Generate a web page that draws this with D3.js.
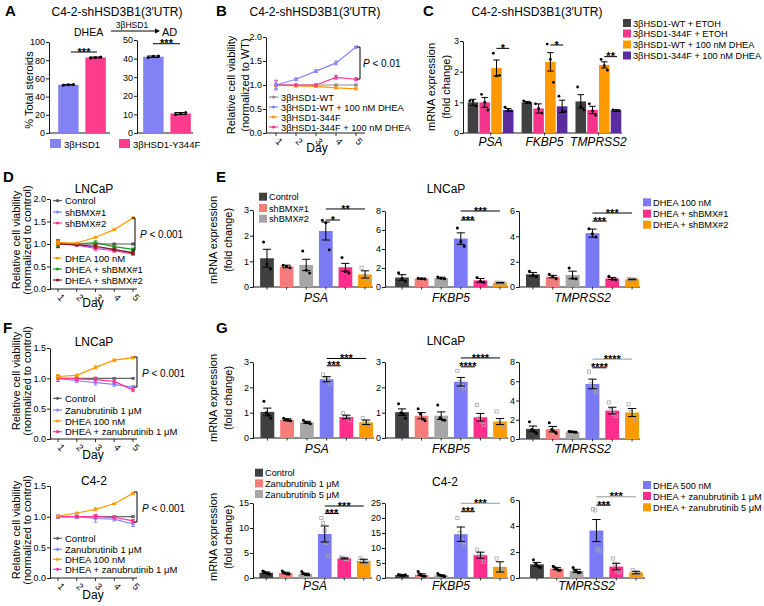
<!DOCTYPE html>
<html>
<head>
<meta charset="utf-8">
<script src="https://cdn.jsdelivr.net/npm/d3@7/dist/d3.min.js"></script>
<style>
body{margin:0;background:#fff;}
svg text{font-family:'Liberation Sans',Arial,Helvetica,sans-serif;}
</style>
</head>
<body>
<svg id="fig" width="764" height="606"></svg>
<script>
// ================= DATA =================
// Panel A
const aCategories = ["3βHSD1", "3βHSD1-Y344F"];
const aDheaValues = [53, 83];
const aDheaErrors = [0.4, 0.5];
const aDheaPoints = [[52.6, 53.1, 53.3], [82.4, 83.0, 83.5]];
const aAdValues = [41, 10.5];
const aAdErrors = [0.4, 0.5];
const aAdPoints = [[40.6, 41.2, 41.4], [10.0, 10.5, 11.0]];
const aDheaTicks = [0, 20, 40, 60, 80, 100];
const aAdTicks = [0, 10, 20, 30, 40, 50];

// Panel B
const bDays = ["1", "2", "3", "4", "5"];
const bSeriesNames = ["3βHSD1-WT", "3βHSD1-WT + 100 nM DHEA", "3βHSD1-344F", "3βHSD1-344F + 100 nM DHEA"];
const bWt = [1.0, 1.0, 1.0, 1.0, 1.0];
const bWtDhea = [1.0, 1.12, 1.29, 1.46, 1.79];
const bMut = [1.0, 0.98, 0.97, 0.94, 0.92];
const bMutDhea = [1.0, 1.0, 1.0, 1.16, 1.12];
const bWtErr = [0.02, 0.02, 0.02, 0.02, 0.02];
const bWtDheaErr = [0.08, 0.03, 0.03, 0.04, 0.02];
const bMutErr = [0.03, 0.02, 0.02, 0.02, 0.02];
const bMutDheaErr = [0.1, 0.02, 0.02, 0.04, 0.03];
const bTicks = [0, 0.5, 1.0, 1.5, 2.0];

// Panel C
const cGenes = ["PSA", "FKBP5", "TMPRSS2"];
const cSeriesNames = ["3βHSD1-WT + ETOH", "3βHSD1-344F + ETOH", "3βHSD1-WT + 100 nM DHEA", "3βHSD1-344F + 100 nM DHEA"];
const cWtEtoh = [1.0, 1.0, 1.03];
const cMutEtoh = [1.0, 0.8, 0.75];
const cWtDhea = [2.12, 2.32, 2.22];
const cMutDhea = [0.75, 0.87, 0.73];
const cWtEtohErr = [0.1, 0.03, 0.22];
const cMutEtohErr = [0.16, 0.15, 0.12];
const cWtDheaErr = [0.26, 0.3, 0.1];
const cMutDheaErr = [0.05, 0.2, 0.03];
const cWtEtohPts = [[1.05, 1.05, 0.88], [1.05, 1.0, 0.98], [1.5, 0.85, 0.75]];
const cMutEtohPts = [[1.26, 1.0, 0.75], [0.95, 0.8, 0.65], [0.95, 0.72, 0.58]];
const cWtDheaPts = [[2.6, 1.86, 1.88], [2.9, 2.4, 1.65], [2.4, 2.2, 2.05]];
const cMutDheaPts = [[0.84, 0.75, 0.72], [1.2, 0.72, 0.7], [0.75, 0.72, 0.73]];
const cTicks = [0, 1, 2, 3];
const cSig = [["PSA", "*"], ["FKBP5", "*"], ["TMPRSS2", "**"]];

// Panel D
const dDays = ["1", "2", "3", "4", "5"];
const dSeriesNames = ["Control", "shBMX#1", "shBMX#2", "DHEA 100 nM", "DHEA + shBMX#1", "DHEA + shBMX#2"];
const dControl = [1.02, 1.0, 1.0, 1.0, 1.0];
const dSh1 = [1.0, 0.98, 0.93, 0.87, 0.82];
const dSh2 = [1.0, 0.98, 0.9, 0.85, 0.78];
const dDhea = [1.03, 1.02, 1.15, 1.32, 1.58];
const dDheaSh1 = [1.02, 1.0, 1.03, 0.94, 0.88];
const dDheaSh2 = [1.0, 0.98, 0.95, 0.88, 0.8];
const dErr = [0.08, 0.02, 0.04, 0.03, 0.03];
const dTicks = [0, 0.5, 1.0, 1.5, 2.0];

// Panel E (LNCaP, shBMX)
const eGroups = ["Control", "shBMX#1", "shBMX#2", "DHEA 100 nM", "DHEA + shBMX#1", "DHEA + shBMX#2"];
const ePsaMean = [1.12, 0.8, 0.86, 2.18, 0.77, 0.49];
const ePsaSem = [0.35, 0.05, 0.22, 0.35, 0.15, 0.14];
const ePsaPts = [[1.75, 0.9, 0.7], [0.85, 0.8, 0.75], [1.4, 0.65, 0.55], [2.6, 2.5, 1.45], [1.15, 0.6, 0.55], [0.75, 0.42, 0.3]];
const eFkbp5Mean = [1.0, 0.88, 0.95, 5.1, 0.7, 0.45];
const eFkbp5Sem = [0.3, 0.05, 0.08, 0.6, 0.2, 0.03];
const eFkbp5Pts = [[1.5, 0.9, 0.6], [0.92, 0.87, 0.85], [1.05, 0.92, 0.88], [6.2, 4.8, 4.3], [1.0, 0.6, 0.5], [0.47, 0.45, 0.43]];
const eTmprss2Mean = [1.0, 0.82, 0.95, 4.25, 0.68, 0.6];
const eTmprss2Sem = [0.15, 0.1, 0.3, 0.32, 0.08, 0.03];
const eTmprss2Pts = [[1.25, 0.95, 0.8], [1.0, 0.8, 0.66], [1.5, 0.7, 0.65], [4.6, 4.2, 3.95], [0.85, 0.62, 0.57], [0.62, 0.6, 0.58]];
const ePsaTicks = [0, 1, 2, 3];
const eFkbp5Ticks = [0, 2, 4, 6, 8];
const eTmprss2Ticks = [0, 2, 4, 6];
const ePsaSig = [[3, 4, "*"], [3, 5, "**"]];
const eFkbp5Sig = [[3, 4, "***"], [3, 5, "***"]];
const eTmprss2Sig = [[3, 4, "***"], [3, 5, "***"]];

// Panel F
const fDays = ["1", "2", "3", "4", "5"];
const fSeriesNames = ["Control", "Zanubrutinib 1 μM", "DHEA 100 nM", "DHEA + zanubrutinib 1 μM"];
const fLnControl = [1.0, 1.0, 1.0, 1.0, 1.0];
const fLnZanu = [1.0, 0.96, 0.93, 0.9, 0.85];
const fLnDhea = [1.03, 1.05, 1.18, 1.3, 1.34];
const fLnDheaZanu = [1.0, 0.99, 0.98, 0.95, 0.81];
const fLnErr = [0.05, 0.03, 0.04, 0.03, 0.03];
const fC42Control = [1.0, 1.0, 1.0, 1.0, 1.0];
const fC42Zanu = [1.0, 1.0, 0.97, 0.96, 0.88];
const fC42Dhea = [1.01, 1.06, 1.12, 1.21, 1.38];
const fC42DheaZanu = [1.0, 1.0, 1.0, 0.99, 0.93];
const fC42Err = [0.03, 0.03, 0.06, 0.03, 0.04];
const fTicks = [0, 0.5, 1.0, 1.5];

// Panel G
const gGroups = ["Control", "Zanubrutinib 1 μM", "Zanubrutinib 5 μM", "DHEA 500 nM", "DHEA + zanubrutinib 1 μM", "DHEA + zanubrutinib 5 μM"];
const gLnPsaMean = [1.03, 0.72, 0.62, 2.32, 0.83, 0.62];
const gLnPsaSem = [0.15, 0.04, 0.04, 0.1, 0.07, 0.09];
const gLnPsaPts = [[1.45, 1.0, 0.9, 0.78], [0.78, 0.72, 0.7, 0.68], [0.7, 0.62, 0.6, 0.56], [2.5, 2.35, 2.3, 2.13], [0.98, 0.85, 0.8, 0.7], [0.78, 0.62, 0.58, 0.5]];
const gLnFkbp5Mean = [1.02, 0.88, 0.88, 2.22, 0.82, 0.65];
const gLnFkbp5Sem = [0.13, 0.12, 0.15, 0.17, 0.15, 0.12];
const gLnFkbp5Pts = [[1.35, 1.0, 0.95, 0.78], [1.15, 0.95, 0.75, 0.68], [1.3, 0.8, 0.72, 0.7], [2.65, 2.2, 2.05, 1.96], [1.3, 0.8, 0.65, 0.53], [1.05, 0.6, 0.5, 0.45]];
const gLnTmprss2Mean = [1.05, 1.02, 0.75, 5.72, 2.95, 2.75];
const gLnTmprss2Sem = [0.3, 0.28, 0.05, 0.5, 0.35, 0.42];
const gLnTmprss2Pts = [[1.8, 1.0, 0.8, 0.6], [1.7, 1.0, 0.8, 0.6], [0.8, 0.75, 0.72, 0.7], [7.0, 5.7, 5.3, 4.86], [3.8, 3.0, 2.6, 2.4], [3.6, 2.8, 2.5, 2.1]];
const gC42PsaMean = [1.05, 1.0, 0.85, 8.8, 3.9, 3.4];
const gC42PsaSem = [0.15, 0.15, 0.12, 1.6, 0.1, 0.35];
const gC42PsaPts = [[1.4, 1.2, 1.0, 0.9, 0.75], [1.4, 1.1, 0.9, 0.8, 0.8], [1.3, 0.9, 0.7, 0.7, 0.65], [12, 11, 9.5, 7, 4.5], [4.1, 4.0, 3.9, 3.8, 3.7], [4.0, 3.6, 3.3, 3.0, 3.1]];
const gC42Fkbp5Mean = [1.0, 1.1, 0.9, 14.6, 7.6, 3.7];
const gC42Fkbp5Sem = [0.1, 0.3, 0.15, 2.4, 1.0, 1.7];
const gC42Fkbp5Pts = [[1.2, 1.0, 0.9, 0.8, 1.1], [2.2, 1.3, 0.8, 0.6, 0.6], [1.5, 1.0, 0.8, 0.7, 0.5], [20, 15, 12.5, 11], [9.5, 8.2, 7.3, 5.4], [6.5, 3, 2.5, 2.8]];
const gC42Tmprss2Mean = [1.05, 0.72, 0.55, 3.65, 0.88, 0.42];
const gC42Tmprss2Sem = [0.15, 0.08, 0.12, 0.85, 0.25, 0.1];
const gC42Tmprss2Pts = [[1.4, 1.1, 0.9, 0.8], [0.9, 0.8, 0.7, 0.6, 0.6], [0.8, 0.6, 0.5, 0.4, 0.45], [5.3, 5.2, 2.2, 2.1], [1.5, 1.1, 0.5, 0.45], [0.6, 0.4, 0.35, 0.3]];
const gLnPsaTicks = [0, 1, 2, 3];
const gLnFkbp5Ticks = [0, 1, 2, 3];
const gLnTmprss2Ticks = [0, 2, 4, 6, 8];
const gC42PsaTicks = [0, 5, 10, 15];
const gC42Fkbp5Ticks = [0, 5, 10, 15, 20, 25];
const gC42Tmprss2Ticks = [0, 2, 4, 6];
const gLnPsaSig = [[3, 4, "***"], [3, 5, "***"]];
const gLnFkbp5Sig = [[3, 4, "****"], [3, 5, "****"]];
const gLnTmprss2Sig = [[3, 4, "****"], [3, 5, "****"]];
const gC42Sig = [[3, 4, "***"], [3, 5, "***"]];

// ================= STYLE =================
const FONT = "'Liberation Sans', Arial, Helvetica, sans-serif";
const aColors = ["#8282f5", "#ff3b8e"];
const bColors = ["#8c8c8c", "#8484ff", "#ff9900", "#ff3399"];
const cColors = ["#404040", "#f5358c", "#ff9900", "#5b2c9e"];
const dColors = ["#555555", "#8484ff", "#ff3399", "#ff9900", "#1f9a1f", "#8b1a1a"];
const eColors = ["#404040", "#f77b7b", "#a6a6a6", "#7a7af5", "#ff2d8c", "#ff9900"];
const fColors = ["#666666", "#8484ff", "#ff9900", "#ff3399"];

const svg = d3.select("#fig");

function T(x, y, s, o = {}) {
  const t = svg.append("text").attr("x", x).attr("y", y).text(s)
    .attr("font-size", o.size || 10).attr("text-anchor", o.anchor || "start")
    .attr("fill", o.fill || "#000").attr("font-family", FONT);
  if (o.weight) t.attr("font-weight", o.weight);
  if (o.italic) t.attr("font-style", "italic");
  if (o.rotate) t.attr("transform", `rotate(${o.rotate},${x},${y})`);
  return t;
}
function L(x1, y1, x2, y2, c = "#000", w = 1) {
  return svg.append("line").attr("x1", x1).attr("y1", y1).attr("x2", x2).attr("y2", y2)
    .attr("stroke", c).attr("stroke-width", w);
}
function drawYAxis(x, y, ticks, fmt) {
  const g = svg.append("g").attr("transform", `translate(${x},0)`)
    .call(d3.axisLeft(y).tickValues(ticks).tickFormat(fmt).tickSize(3).tickSizeOuter(0).tickPadding(1));
  g.attr("font-family", FONT).attr("font-size", 9);
  g.selectAll("text").attr("fill", "#000");
  g.selectAll("line,path").attr("stroke", "#000").attr("stroke-width", 0.9);
  return g;
}
function bracket(x1, x2, yy, label, color = "#000") {
  L(x1, yy, x2, yy, color, 1);
  T((x1 + x2) / 2, yy + 3.6, label, {size: 11, anchor: "middle", weight: "bold"});
}
function pBracket(x, y1, y2, tx, ty, rest) {
  L(x - 3, y1, x, y1); L(x, y1, x, y2); L(x - 3, y2, x, y2);
  const t = svg.append("text").attr("x", tx).attr("y", ty).attr("font-size", 10).attr("font-family", FONT);
  t.append("tspan").attr("font-style", "italic").text("P");
  t.append("tspan").text(" < " + rest);
}
function drawBarSet(y, bars, opt = {}) {
  const g = svg.append("g");
  g.selectAll("rect.bar").data(bars).join("rect").attr("class", "bar")
    .attr("x", d => d.cx - d.w / 2).attr("y", d => y(d.v))
    .attr("width", d => d.w).attr("height", d => y(0) - y(d.v)).attr("fill", d => d.color);
  bars.forEach(b => {
    const n = b.pts.length, spread = b.w * (opt.spread || 0.5);
    b.pts.forEach((p, i) => {
      const dx = n > 1 ? (i / (n - 1) - 0.5) * spread : 0;
      const px = b.cx + dx, py = y(p);
      if (b.hollow) g.append("rect").attr("x", px - 1.6).attr("y", py - 1.6).attr("width", 3.2).attr("height", 3.2)
        .attr("fill", "none").attr("stroke", "#a8a8a8").attr("stroke-width", 0.8);
      else g.append("circle").attr("cx", px).attr("cy", py).attr("r", opt.r || 1.5).attr("fill", "#000");
    });
    const cap = b.w * 0.3;
    L(b.cx, y(b.v - b.e), b.cx, y(b.v + b.e));
    L(b.cx - cap, y(b.v + b.e), b.cx + cap, y(b.v + b.e));
    L(b.cx - cap, y(b.v - b.e), b.cx + cap, y(b.v - b.e));
  });
}
function squareLegend(x, rows, size = 9) {
  rows.forEach(([yc, name, color]) => {
    svg.append("rect").attr("x", x).attr("y", yc - 4).attr("width", 8).attr("height", 8).attr("fill", color);
    T(x + 10, yc + 3.5, name, {size});
  });
}
function lineLegend(x, rows, size = 9.5) {
  rows.forEach(([yc, name, color]) => {
    L(x, yc, x + 9, yc, color, 1.2);
    svg.append("circle").attr("cx", x + 4.5).attr("cy", yc).attr("r", 1.6).attr("fill", color);
    T(x + 12, yc + 3.5, name, {size});
  });
}

// generic bar subplot with 6 groups
function barSubplot(o) {
  const y = d3.scaleLinear().domain([0, o.max]).range([o.yBot, o.yTop]);
  const x = d3.scaleBand().domain(d3.range(o.mean.length)).range(o.band).paddingInner(0.3).paddingOuter(0.2);
  drawYAxis(o.axisX, y, o.ticks, d3.format("d"));
  L(o.axisX, o.yBot, o.axisEnd, o.yBot, "#000", 0.9);
  const cx = i => x(i) + x.bandwidth() / 2;
  o.mean.forEach((v, i) => L(cx(i), o.yBot, cx(i), o.yBot + 2.5, "#000", 0.8));
  drawBarSet(y, o.mean.map((v, i) => ({cx: cx(i), w: x.bandwidth(), v, e: o.sem[i], pts: o.pts[i], color: eColors[i], hollow: o.hollow[i]})));
  T((o.band[0] + o.band[1]) / 2, o.labelY, o.label, {size: 12, italic: true, anchor: "middle"});
  o.sig.forEach(([a, b, lab], k) => {
    const x2 = (b - a === 1) ? cx(b) - x.bandwidth() * 0.4 : cx(b);
    bracket(cx(a), x2, y(o.sigY[k]), lab, (o.sigColors && o.sigColors[k]) || "#000");
  });
}

// generic line subplot
function lineSubplot(o) {
  const y = d3.scaleLinear().domain([0, o.max]).range([o.yBot, o.yTop]);
  const x = d3.scalePoint().domain(o.days).range(o.xRange);
  drawYAxis(o.axisX, y, o.ticks, d3.format(".1f"));
  L(o.axisX, o.yBot, o.axisEnd, o.yBot, "#000", 0.9);
  o.days.forEach(d => {
    L(x(d), o.yBot, x(d), o.yBot + 3, "#000", 0.8);
    T(x(d) + 1, o.yBot + 11, d, {size: 9.5, anchor: "middle", rotate: 45});
  });
  const line = d3.line().x((d, i) => x(o.days[i])).y(d => y(d));
  o.series.forEach(s => {
    svg.append("path").attr("d", line(s.vals)).attr("fill", "none").attr("stroke", s.color).attr("stroke-width", 1.2);
    s.vals.forEach((v, i) => {
      const e = s.errs[i], px = x(o.days[i]);
      L(px, y(v - e), px, y(v + e), s.color, 0.9);
      L(px - 2, y(v + e), px + 2, y(v + e), s.color, 0.9);
      L(px - 2, y(v - e), px + 2, y(v - e), s.color, 0.9);
      svg.append("circle").attr("cx", px).attr("cy", y(v)).attr("r", 1.6).attr("fill", s.color);
    });
  });
}

// ================= PANEL A =================
T(5, 16, "A", {size: 15, weight: "bold"});
T(117, 16, "C4-2-shHSD3B1(3′UTR)", {size: 12, anchor: "middle"});
T(74, 36, "DHEA", {size: 10.5});
L(111, 31, 155, 31);
svg.append("path").attr("d", "M155,28.5 L160,31 L155,33.5 Z").attr("fill", "#000");
T(132, 27.5, "3βHSD1", {size: 8.5, anchor: "middle"});
T(162, 36, "AD", {size: 11});
T(33, 90, "% Total steroids", {size: 11, anchor: "middle", rotate: -90});
{
  const yL = d3.scaleLinear().domain([0, 100]).range([133, 42]);
  drawYAxis(49, yL, aDheaTicks, d3.format("d"));
  L(49, 133, 110, 133, "#000", 0.9);
  const xL = d3.scaleBand().domain(aCategories).range([50, 114]).paddingInner(0.25).paddingOuter(0.3);
  drawBarSet(yL, aCategories.map((c, i) => ({cx: xL(c) + xL.bandwidth() / 2, w: xL.bandwidth(), v: aDheaValues[i], e: aDheaErrors[i], pts: aDheaPoints[i], color: aColors[i]})));
  bracket(71, 97, yL(89), "***");
  const yR = d3.scaleLinear().domain([0, 50]).range([133, 40]);
  drawYAxis(137, yR, aAdTicks, d3.format("d"));
  L(137, 133, 193, 133, "#000", 0.9);
  const xR = d3.scaleBand().domain(aCategories).range([135, 199]).paddingInner(0.25).paddingOuter(0.3);
  drawBarSet(yR, aCategories.map((c, i) => ({cx: xR(c) + xR.bandwidth() / 2, w: xR.bandwidth(), v: aAdValues[i], e: aAdErrors[i], pts: aAdPoints[i], color: aColors[i]})));
  bracket(153, 180, yR(48.0), "***");
  svg.append("rect").attr("x", 50).attr("y", 139).attr("width", 11).attr("height", 9).attr("fill", aColors[0]);
  T(64, 148, aCategories[0], {size: 9.5});
  svg.append("rect").attr("x", 119).attr("y", 139).attr("width", 11).attr("height", 9).attr("fill", aColors[1]);
  T(133, 148, aCategories[1], {size: 9.5});
}

// ================= PANEL B =================
T(216, 16, "B", {size: 15, weight: "bold"});
T(315, 16, "C4-2-shHSD3B1(3′UTR)", {size: 12, anchor: "middle"});
T(235, 85, "Relative cell viability", {size: 11, anchor: "middle", rotate: -90});
T(249, 85, "(normalized to WT)", {size: 11, anchor: "middle", rotate: -90});
lineSubplot({axisX: 266, yBot: 133, yTop: 37, max: 2, ticks: bTicks, days: bDays, xRange: [276, 356], axisEnd: 365,
  series: [
    {vals: bWt, errs: bWtErr, color: bColors[0]},
    {vals: bMut, errs: bMutErr, color: bColors[2]},
    {vals: bMutDhea, errs: bMutDheaErr, color: bColors[3]},
    {vals: bWtDhea, errs: bWtDheaErr, color: bColors[1]}]});
T(317, 152, "Day", {size: 12, anchor: "middle"});
lineLegend(269, bSeriesNames.map((n, i) => [[97, 107, 117, 127][i], n, bColors[i]]), 9.3);
pBracket(360, 47, 79, 363, 67, "0.01");

// ================= PANEL C =================
T(423, 16, "C", {size: 15, weight: "bold"});
T(537, 16, "C4-2-shHSD3B1(3′UTR)", {size: 12, anchor: "middle"});
T(435, 87, "mRNA expression", {size: 11, anchor: "middle", rotate: -90});
T(450, 87, "(fold change)", {size: 11, anchor: "middle", rotate: -90});
{
  const y = d3.scaleLinear().domain([0, 3]).range([133, 41]);
  drawYAxis(463, y, cTicks, d3.format("d"));
  L(463, 133, 622, 133, "#000", 0.9);
  const x0 = d3.scaleBand().domain(cGenes).range([465, 624]).paddingInner(0.15).paddingOuter(0.05);
  const x1 = d3.scaleBand().domain(d3.range(4)).range([0, x0.bandwidth()]).paddingInner(0.1);
  const means = [cWtEtoh, cMutEtoh, cWtDhea, cMutDhea];
  const errs = [cWtEtohErr, cMutEtohErr, cWtDheaErr, cMutDheaErr];
  const pts = [cWtEtohPts, cMutEtohPts, cWtDheaPts, cMutDheaPts];
  const bars = [];
  cGenes.forEach((gname, gi) => {
    means.forEach((m, si) => {
      bars.push({cx: x0(gname) + x1(si) + x1.bandwidth() / 2, w: x1.bandwidth(), v: m[gi], e: errs[si][gi], pts: pts[si][gi], color: cColors[si]});
    });
    const c = x0(gname) + x0.bandwidth() / 2;
    L(c, 133, c, 135.5, "#000", 0.8);
    T(c, 146, gname, {size: 12, italic: true, anchor: "middle"});
  });
  drawBarSet(y, bars, {spread: 0.6, r: 1.4});
  const sigY = [2.76, 2.87, 2.49];
  cSig.forEach(([gname, lab], k) => {
    const a = x0(gname) + x1(2) + x1.bandwidth() / 2, b = x0(gname) + x1(3) + x1.bandwidth() / 2 + 1;
    bracket(a, b, y(sigY[k]), lab);
  });
  squareLegend(623, cSeriesNames.map((n, i) => [[23, 33.5, 44.5, 55.5][i], n, cColors[i]]), 9.2);
}

// ================= PANEL D =================
T(3, 182, "D", {size: 15, weight: "bold"});
T(94, 193, "LNCaP", {size: 12, anchor: "middle"});
T(20, 240, "Relative cell viability", {size: 11, anchor: "middle", rotate: -90});
T(31, 240, "(normalized to control)", {size: 11, anchor: "middle", rotate: -90});
lineSubplot({axisX: 50, yBot: 289, yTop: 199, max: 2, ticks: dTicks, days: dDays, xRange: [58, 133], axisEnd: 137,
  series: [
    {vals: dControl, errs: dErr.map(e => e * 0.6), color: dColors[0]},
    {vals: dSh1, errs: dErr, color: dColors[1]},
    {vals: dSh2, errs: dErr, color: dColors[2]},
    {vals: dDheaSh1, errs: dErr, color: dColors[4]},
    {vals: dDheaSh2, errs: dErr, color: dColors[5]},
    {vals: dDhea, errs: dErr.map(e => e * 0.5), color: dColors[3]}]});
T(93, 307, "Day", {size: 12, anchor: "middle"});
lineLegend(53, dSeriesNames.map((n, i) => [[200.7, 212, 223, 258, 269, 280][i], n, dColors[i]]), 9.5);
pBracket(135, 218, 250, 140, 238, "0.001");

// ================= PANEL E =================
T(216, 182, "E", {size: 15, weight: "bold"});
T(446, 193, "LNCaP", {size: 12, anchor: "middle"});
T(217, 240, "mRNA expression", {size: 11, anchor: "middle", rotate: -90});
T(232, 240, "(fold change)", {size: 11, anchor: "middle", rotate: -90});
{
  const eHollow = [false, false, false, false, false, true];
  barSubplot({axisX: 253, band: [256.2, 375.8], axisEnd: 373, yBot: 287, yTop: 210, max: 3, ticks: ePsaTicks,
    mean: ePsaMean, sem: ePsaSem, pts: ePsaPts, hollow: eHollow, label: "PSA", labelY: 302, sig: ePsaSig, sigY: [2.61, 3.04]});
  barSubplot({axisX: 385, band: [391.2, 510.8], axisEnd: 508, yBot: 287, yTop: 211, max: 8, ticks: eFkbp5Ticks,
    mean: eFkbp5Mean, sem: eFkbp5Sem, pts: eFkbp5Pts, hollow: eHollow, label: "FKBP5", labelY: 302, sig: eFkbp5Sig, sigY: [7.05, 8.0]});
  barSubplot({axisX: 519, band: [522, 643], axisEnd: 640, yBot: 287, yTop: 211, max: 6, ticks: eTmprss2Ticks,
    mean: eTmprss2Mean, sem: eTmprss2Sem, pts: eTmprss2Pts, hollow: eHollow, label: "TMPRSS2", labelY: 302, sig: eTmprss2Sig, sigY: [5.2, 5.84]});
  squareLegend(259, eGroups.slice(0, 3).map((n, i) => [[196.7, 208, 218.7][i], n, eColors[i]]), 9.2);
  squareLegend(643, eGroups.slice(3).map((n, i) => [[202.3, 213.7, 224.7][i], n, eColors[i + 3]]), 9.2);
}

// ================= PANEL F =================
T(3, 333, "F", {size: 15, weight: "bold"});
T(94, 346, "LNCaP", {size: 12, anchor: "middle"});
T(20, 381, "Relative cell viability", {size: 11, anchor: "middle", rotate: -90});
T(31, 381, "(normalized to control)", {size: 11, anchor: "middle", rotate: -90});
lineSubplot({axisX: 50, yBot: 439, yTop: 348, max: 1.5, ticks: fTicks, days: fDays, xRange: [58, 133], axisEnd: 137,
  series: [
    {vals: fLnControl, errs: fLnErr.map(e => e * 0.3), color: fColors[0]},
    {vals: fLnZanu, errs: fLnErr, color: fColors[1]},
    {vals: fLnDheaZanu, errs: fLnErr, color: fColors[3]},
    {vals: fLnDhea, errs: fLnErr.map(e => e * 0.6), color: fColors[2]}]});
T(93, 459, "Day", {size: 12, anchor: "middle"});
lineLegend(53, fSeriesNames.map((n, i) => [[398.3, 410, 421, 431.7][i], n, fColors[i]]), 9.5);
pBracket(137, 357, 387, 142, 377, "0.001");

T(94, 485, "C4-2", {size: 12, anchor: "middle"});
T(20, 530, "Relative cell viability", {size: 11, anchor: "middle", rotate: -90});
T(31, 530, "(normalized to control)", {size: 11, anchor: "middle", rotate: -90});
lineSubplot({axisX: 50, yBot: 578, yTop: 486, max: 1.5, ticks: fTicks, days: fDays, xRange: [58, 133], axisEnd: 137,
  series: [
    {vals: fC42Control, errs: fC42Err.map(e => e * 0.3), color: fColors[0]},
    {vals: fC42Zanu, errs: fC42Err, color: fColors[1]},
    {vals: fC42DheaZanu, errs: fC42Err.map(e => e * 0.6), color: fColors[3]},
    {vals: fC42Dhea, errs: fC42Err.map(e => e * 0.4), color: fColors[2]}]});
T(93, 599, "Day", {size: 12, anchor: "middle"});
lineLegend(53, fSeriesNames.map((n, i) => [[538.3, 549.3, 559.3, 569.3][i], n, fColors[i]]), 9.5);
pBracket(137, 492, 522, 142, 512, "0.001");

// ================= PANEL G =================
T(216, 333, "G", {size: 15, weight: "bold"});
T(446, 345, "LNCaP", {size: 12, anchor: "middle"});
T(217, 398, "mRNA expression", {size: 11, anchor: "middle", rotate: -90});
T(232, 398, "(fold change)", {size: 11, anchor: "middle", rotate: -90});
{
  const gHollow = [false, false, false, true, true, true];
  barSubplot({axisX: 253, band: [256.5, 377], axisEnd: 374, yBot: 438, yTop: 362, max: 3, ticks: gLnPsaTicks,
    mean: gLnPsaMean, sem: gLnPsaSem, pts: gLnPsaPts, hollow: gHollow, label: "PSA", labelY: 453, sig: gLnPsaSig, sigY: [2.85, 3.14]});
  barSubplot({axisX: 385, band: [391.2, 510.8], axisEnd: 508, yBot: 438, yTop: 362, max: 3, ticks: gLnFkbp5Ticks,
    mean: gLnFkbp5Mean, sem: gLnFkbp5Sem, pts: gLnFkbp5Pts, hollow: gHollow, label: "FKBP5", labelY: 453, sig: gLnFkbp5Sig, sigY: [2.81, 3.16]});
  barSubplot({axisX: 519, band: [522, 643], axisEnd: 640, yBot: 439, yTop: 362, max: 8, ticks: gLnTmprss2Ticks,
    mean: gLnTmprss2Mean, sem: gLnTmprss2Sem, pts: gLnTmprss2Pts, hollow: gHollow, label: "TMPRSS2", labelY: 453, sig: gLnTmprss2Sig, sigY: [7.4, 8.3], sigColors: ["#000", "#999"]});

  T(445, 486, "C4-2", {size: 12, anchor: "middle"});
  T(217, 537, "mRNA expression", {size: 11, anchor: "middle", rotate: -90});
  T(232, 537, "(fold change)", {size: 11, anchor: "middle", rotate: -90});
  barSubplot({axisX: 253, band: [255.5, 374.5], axisEnd: 372, yBot: 578, yTop: 503, max: 15, ticks: gC42PsaTicks,
    mean: gC42PsaMean, sem: gC42PsaSem, pts: gC42PsaPts, hollow: gHollow, label: "PSA", labelY: 590, sig: gC42Sig, sigY: [12.9, 14.4]});
  barSubplot({axisX: 385, band: [391.2, 510.8], axisEnd: 508, yBot: 578, yTop: 503, max: 25, ticks: gC42Fkbp5Ticks,
    mean: gC42Fkbp5Mean, sem: gC42Fkbp5Sem, pts: gC42Fkbp5Pts, hollow: gHollow, label: "FKBP5", labelY: 590, sig: gC42Sig, sigY: [22.1, 24.9], sigColors: ["#000", "#999"]});
  barSubplot({axisX: 519, band: [526, 647], axisEnd: 645, yBot: 578, yTop: 500, max: 6, ticks: gC42Tmprss2Ticks,
    mean: gC42Tmprss2Mean, sem: gC42Tmprss2Sem, pts: gC42Tmprss2Pts, hollow: gHollow, label: "TMPRSS2", labelY: 590, sig: gC42Sig, sigY: [5.6, 6.25], sigColors: ["#000", "#999"]});
  squareLegend(255, gGroups.slice(0, 3).map((n, i) => [[472.7, 483.3, 494][i], n, eColors[i]]), 9.2);
  squareLegend(643, gGroups.slice(3).map((n, i) => [[485, 496, 507.3][i], n, eColors[i + 3]]), 9.2);
}
</script>
</body>
</html>
